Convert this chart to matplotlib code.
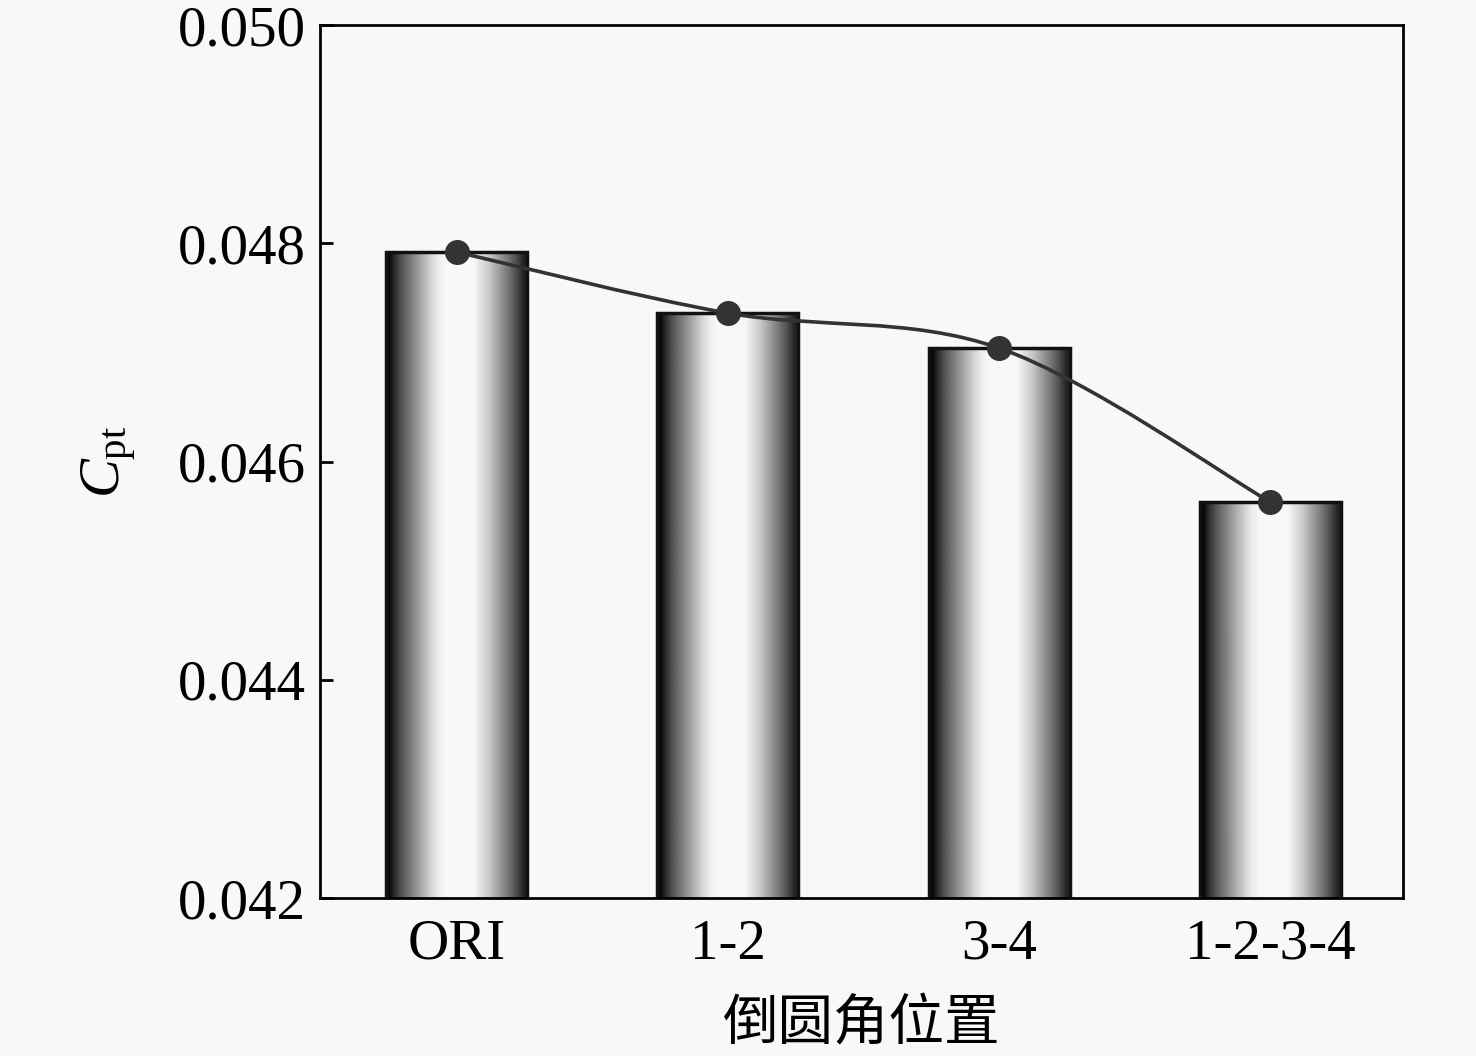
import matplotlib.pyplot as plt
import numpy as np
from matplotlib.path import Path
from matplotlib.patches import PathPatch

plt.rcParams['font.family'] = ['Liberation Serif', 'Noto Sans CJK SC']
plt.rcParams['mathtext.fontset'] = 'custom'
plt.rcParams['mathtext.rm'] = 'Liberation Serif'
plt.rcParams['mathtext.it'] = 'Liberation Serif:italic'

# données
categories = ['ORI', '1-2', '3-4', '1-2-3-4']
cpt = [0.04792, 0.04736, 0.04704, 0.04563]
yticks = [0.042, 0.044, 0.046, 0.048, 0.050]

bg = '#f8f8f8'
fig = plt.figure(figsize=(14.76, 10.56), dpi=100, facecolor=bg)
ax = fig.add_axes([0.2168, 0.1496, 0.7337, 0.8267], facecolor=bg)

x = np.arange(len(categories))
width = 0.52

# profil de gris (effet cylindre)
profile = np.array([0.03, 0.22, 0.36, 0.48, 0.6, 0.72, 0.84, 0.93, 0.97, 0.97,
                    0.97, 0.97, 0.97, 0.88, 0.8, 0.68, 0.56, 0.44, 0.3, 0.14])
grad = np.tile(profile, (2, 1))

bars = ax.bar(x, cpt, width=width, bottom=0, facecolor='none',
              edgecolor='#111111', linewidth=2.5, zorder=3)
for b in bars:
    x0, y0 = b.get_x(), 0.042
    x1, y1 = x0 + b.get_width(), b.get_height()
    im = ax.imshow(grad, cmap='gray', vmin=0, vmax=1, aspect='auto',
                   extent=(x0, x1, y0, y1), interpolation='bilinear', zorder=2)
    im.set_clip_path(b)

# courbe lissée (Catmull-Rom -> Bezier)
pts = np.column_stack([x, cpt])
verts = [pts[0]]
codes = [Path.MOVETO]
for i in range(len(pts) - 1):
    p0 = pts[i - 1] if i > 0 else pts[i]
    p1, p2 = pts[i], pts[i + 1]
    p3 = pts[i + 2] if i + 2 < len(pts) else pts[i + 1]
    c1 = p1 + (p2 - p0) / 6
    c2 = p2 - (p3 - p1) / 6
    verts += [c1, c2, p2]
    codes += [Path.CURVE4] * 3
ax.add_patch(PathPatch(Path(verts, codes), facecolor='none',
                       edgecolor='#333333', linewidth=2.6, zorder=4))
ax.plot(x, cpt, 'o', color='#333333', markersize=17, zorder=5)

ax.set_xlim(-0.505, 3.49)
ax.set_ylim(0.042, 0.050)
ax.set_yticks(yticks)
ax.set_yticklabels(['%.3f' % v for v in yticks])
ax.set_xticks(x)
ax.set_xticklabels(categories)
ax.tick_params(direction='in', length=9, width=2, labelsize=41, pad=10)
ax.tick_params(axis='x', pad=15)
for s in ax.spines.values():
    s.set_linewidth(2)

ax.set_xlabel('倒圆角位置', fontsize=40, family=['Noto Sans CJK SC'], labelpad=18)
ax.set_ylabel(r'$C_{\mathrm{pt}}$', fontsize=42, labelpad=28)

fig.savefig('out.png', dpi=100, facecolor=bg)
